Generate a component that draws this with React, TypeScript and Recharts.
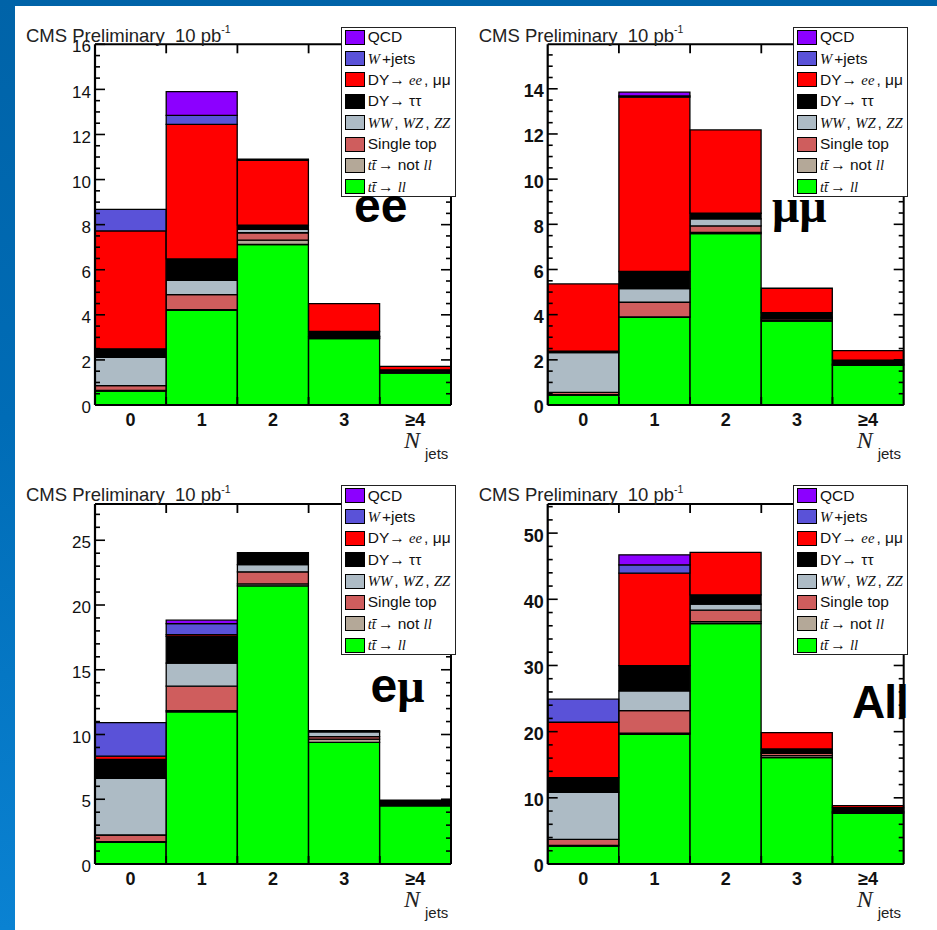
import React from 'react';
import { BarChart, Bar, XAxis, YAxis, Legend } from 'recharts';

// ---------------- data ----------------
const BINS = ['0', '1', '2', '3', '≥4'];

const SERIES = [
  { key: 'ttll', name: 'tt̄→ ll', color: '#00ff00' },
  { key: 'ttnot', name: 'tt̄ → not ll', color: '#b4a898' },
  { key: 'st', name: 'Single top', color: '#cf5d5d' },
  { key: 'vv', name: 'WW, WZ, ZZ', color: '#adbbc5' },
  { key: 'dytt', name: 'DY→ ττ', color: '#000000' },
  { key: 'dyll', name: 'DY→ ee, μμ', color: '#ff0000' },
  { key: 'wjets', name: 'W+jets', color: '#5a52d8' },
  { key: 'qcd', name: 'QCD', color: '#8c00ff' },
];

const EE = {
  ttll: [0.62, 4.2, 7.12, 2.94, 1.41],
  ttnot: [0.03, 0.03, 0.19, 0.04, 0.02],
  st: [0.21, 0.67, 0.33, 0.04, 0.02],
  vv: [1.25, 0.63, 0.15, 0.03, 0.02],
  dytt: [0.38, 0.95, 0.19, 0.21, 0.09],
  dyll: [5.23, 5.97, 2.87, 1.24, 0.15],
  wjets: [0.96, 0.4, 0.05, 0, 0],
  qcd: [0, 1.05, 0, 0, 0],
};

const MUMU = {
  ttll: [0.44, 3.88, 7.59, 3.72, 1.76],
  ttnot: [0.02, 0.02, 0.05, 0.05, 0.02],
  st: [0.1, 0.65, 0.29, 0.07, 0.02],
  vv: [1.76, 0.6, 0.31, 0.05, 0.02],
  dytt: [0.06, 0.76, 0.25, 0.2, 0.17],
  dyll: [2.98, 7.72, 3.69, 1.08, 0.42],
  wjets: [0, 0.05, 0, 0, 0],
  qcd: [0, 0.17, 0, 0, 0],
};

const EMU = {
  ttll: [1.67, 11.75, 21.48, 9.39, 4.5],
  ttnot: [0.05, 0.1, 0.15, 0.26, 0.05],
  st: [0.52, 1.88, 0.93, 0.18, 0.05],
  vv: [4.37, 1.78, 0.56, 0.38, 0.04],
  dytt: [1.47, 2.06, 0.93, 0.08, 0.3],
  dyll: [0.25, 0.15, 0, 0, 0],
  wjets: [2.58, 0.85, 0, 0, 0],
  qcd: [0, 0.26, 0, 0, 0],
};

const ALL = {
  ttll: [2.72, 19.61, 36.34, 16.08, 7.66],
  ttnot: [0.1, 0.15, 0.3, 0.3, 0.1],
  st: [0.91, 3.43, 1.72, 0.35, 0.1],
  vv: [7.11, 2.97, 0.9, 0.1, 0.06],
  dytt: [2.21, 3.83, 1.41, 0.56, 0.6],
  dyll: [8.37, 13.96, 6.41, 2.47, 0.3],
  wjets: [3.48, 1.26, 0, 0, 0],
  qcd: [0, 1.51, 0, 0, 0],
};

const EE_TICKS = [0, 2, 4, 6, 8, 10, 12, 14, 16];
const MUMU_TICKS = [0, 2, 4, 6, 8, 10, 12, 14];
const EMU_TICKS = [0, 5, 10, 15, 20, 25];
const ALL_TICKS = [0, 10, 20, 30, 40, 50];

const TITLE = 'CMS Preliminary\u00A0\u00A010 pb';

// ---------------- helpers ----------------
const SANS = '"Liberation Sans", Arial, Helvetica, sans-serif';
const SERIF = '"Liberation Serif", "Times New Roman", serif';

function buildRows(values: Record<string, number[]>) {
  return BINS.map((b, i) => {
    const row: any = { bin: b };
    SERIES.forEach((s) => {
      row[s.key] = values[s.key][i];
    });
    return row;
  });
}

function minorTicks(max: number, step: number) {
  const t: number[] = [];
  for (let k = 0; k * step <= max + 1e-9; k++) t.push(+(k * step).toFixed(4));
  return t;
}

const It = ({ children }: any) => (
  <span
    style={{
      fontFamily: SERIF,
      fontStyle: 'italic',
      fontSize: '0.95em',
      display: 'inline-block',
      paddingRight: 2,
    }}
  >
    {children}
  </span>
);

function richLabel(key: string) {
  switch (key) {
    case 'qcd':
      return <>QCD</>;
    case 'wjets':
      return (
        <>
          <It>W</It>+jets
        </>
      );
    case 'dyll':
      return (
        <>
          DY→ <It>ee</It>, μμ
        </>
      );
    case 'dytt':
      return <>DY→ ττ</>;
    case 'vv':
      return (
        <>
          <It>WW</It>, <It>WZ</It>, <It>ZZ</It>
        </>
      );
    case 'st':
      return <>Single top</>;
    case 'ttnot':
      return (
        <>
          <It>tt̄</It>→ not <It>ll</It>
        </>
      );
    case 'ttll':
      return (
        <>
          <It>tt̄</It>→ <It>ll</It>
        </>
      );
    default:
      return <>{key}</>;
  }
}

const LegendBox = (props: any) => {
  const payload = props.payload || [];
  const order = (k: string) => SERIES.findIndex((s) => s.key === k);
  const items = [...payload].sort((a: any, b: any) => order(b.dataKey) - order(a.dataKey));
  return (
    <div
      style={{
        position: 'relative',
        width: 115,
        height: 170,
        boxSizing: 'border-box',
        border: '1.5px solid #222',
        background: '#fff',
      }}
    >
      {items.map((it: any, i: number) => {
        const s = SERIES[order(it.dataKey)];
        return (
          <div
            key={String(it.dataKey)}
            style={{
              position: 'absolute',
              left: 3,
              top: 10.6 + 21.35 * i - 9,
              height: 16,
              display: 'flex',
              alignItems: 'center',
            }}
          >
            <div
              style={{
                width: 20,
                height: 15,
                background: s ? s.color : it.color,
                border: '1.5px solid #000',
                boxSizing: 'border-box',
                flex: 'none',
              }}
            />
            <span
              style={{
                marginLeft: 3,
                fontSize: 15.5,
                fontFamily: SANS,
                color: '#111',
                whiteSpace: 'nowrap',
                lineHeight: '16px',
              }}
            >
              {richLabel(String(it.dataKey))}
            </span>
          </div>
        );
      })}
    </div>
  );
};

type PanelCfg = {
  id: string;
  values: Record<string, number[]>;
  left: number;
  top: number;
  width: number;
  height: number;
  plot: { l: number; r: number; t: number; b: number };
  yMax: number;
  majors: number[];
  minorStep: number;
  yFont: number;
  yBold: boolean;
  legend: { x: number; y: number };
};

const PANELS: PanelCfg[] = [
  {
    id: 'ee',
    values: EE,
    left: 0,
    top: 0,
    width: 468,
    height: 465,
    plot: { l: 95, r: 451, t: 44.3, b: 405 },
    yMax: 16,
    majors: EE_TICKS,
    minorStep: 0.5,
    yFont: 17,
    yBold: false,
    legend: { x: 340.7, y: 26.7 },
  },
  {
    id: 'mumu',
    values: MUMU,
    left: 468,
    top: 0,
    width: 469,
    height: 465,
    plot: { l: 547.7, r: 903.7, t: 44.3, b: 405 },
    yMax: 15.97,
    majors: MUMU_TICKS,
    minorStep: 0.5,
    yFont: 18,
    yBold: true,
    legend: { x: 793, y: 26.7 },
  },
  {
    id: 'emu',
    values: EMU,
    left: 0,
    top: 465,
    width: 468,
    height: 465,
    plot: { l: 95, r: 451, t: 504, b: 864 },
    yMax: 27.8,
    majors: EMU_TICKS,
    minorStep: 1,
    yFont: 17,
    yBold: false,
    legend: { x: 340.7, y: 485 },
  },
  {
    id: 'all',
    values: ALL,
    left: 468,
    top: 465,
    width: 469,
    height: 465,
    plot: { l: 547.7, r: 903.7, t: 504, b: 864 },
    yMax: 54.4,
    majors: ALL_TICKS,
    minorStep: 2,
    yFont: 18,
    yBold: true,
    legend: { x: 793, y: 485 },
  },
];

const W_L = 40;
const W_R = 1;
const H_T = 1;
const H_B = 40;

function Panel({ cfg }: { cfg: PanelCfg }) {
  const { plot } = cfg;
  const data = buildRows(cfg.values);
  const ticks = minorTicks(cfg.yMax, cfg.minorStep);
  const margin = {
    left: plot.l - cfg.left - W_L,
    right: cfg.left + cfg.width - plot.r - W_R,
    top: plot.t - cfg.top - H_T,
    bottom: cfg.top + cfg.height - plot.b - H_B,
  };
  const half = (plot.r - plot.l) / BINS.length / 2;
  const isMajor = (v: number) => cfg.majors.some((m) => Math.abs(m - v) < 1e-6);

  const leftTick = (p: any) => {
    const v = p.payload.value;
    const maj = isMajor(v);
    return (
      <g>
        <line x1={p.x} x2={p.x + (maj ? 10 : 5)} y1={p.y} y2={p.y} stroke="#000" strokeWidth={1.6} />
        {maj && (
          <text
            x={p.x - 4}
            y={p.y + 2}
            dy="0.36em"
            textAnchor="end"
            fontFamily={SANS}
            fontSize={cfg.yFont}
            fontWeight={cfg.yBold ? 'bold' : 'normal'}
            fill="#111"
          >
            {v}
          </text>
        )}
      </g>
    );
  };
  const rightTick = (p: any) => {
    const v = p.payload.value;
    const maj = isMajor(v);
    return <line x1={p.x} x2={p.x - (maj ? 10 : 5)} y1={p.y} y2={p.y} stroke="#000" strokeWidth={1.6} />;
  };
  const bottomTick = (p: any) => {
    const off = p.payload && p.payload.offset ? p.payload.offset : half;
    return (
      <g>
        {p.index > 0 && (
          <line x1={p.x - off} x2={p.x - off} y1={p.y} y2={p.y - 8} stroke="#000" strokeWidth={1.8} />
        )}
        <text
          x={p.x}
          y={p.y + 15}
          dy="0.36em"
          textAnchor="middle"
          fontFamily={SANS}
          fontSize={18}
          fontWeight="bold"
          fill="#111"
        >
          {p.payload.value}
        </text>
      </g>
    );
  };
  const topTick = (p: any) => {
    const off = p.payload && p.payload.offset ? p.payload.offset : half;
    if (p.index === 0) return <g />;
    return <line x1={p.x - off} x2={p.x - off} y1={p.y} y2={p.y + 9} stroke="#000" strokeWidth={1.8} />;
  };

  return (
    <div style={{ position: 'absolute', left: cfg.left, top: cfg.top }}>
      <BarChart
        width={cfg.width}
        height={cfg.height}
        data={data}
        margin={margin}
        barCategoryGap={0}
        barGap={0}
      >
        <XAxis
          xAxisId="b"
          dataKey="bin"
          orientation="bottom"
          height={H_B}
          interval={0}
          tickSize={0}
          tickMargin={0}
          tickLine={false}
          axisLine={{ stroke: '#000', strokeWidth: 2 }}
          tick={bottomTick}
        />
        <XAxis
          xAxisId="t"
          dataKey="bin"
          orientation="top"
          height={H_T}
          interval={0}
          tickSize={0}
          tickMargin={0}
          tickLine={false}
          axisLine={{ stroke: '#000', strokeWidth: 2 }}
          tick={topTick}
        />
        <YAxis
          yAxisId="l"
          orientation="left"
          type="number"
          width={W_L}
          domain={[0, cfg.yMax]}
          allowDataOverflow
          ticks={ticks}
          interval={0}
          tickSize={0}
          tickMargin={0}
          tickLine={false}
          axisLine={{ stroke: '#000', strokeWidth: 2.2 }}
          tick={leftTick}
        />
        <YAxis
          yAxisId="r"
          orientation="right"
          type="number"
          width={W_R}
          domain={[0, cfg.yMax]}
          allowDataOverflow
          ticks={ticks}
          interval={0}
          tickSize={0}
          tickMargin={0}
          tickLine={false}
          axisLine={{ stroke: '#000', strokeWidth: 2 }}
          tick={rightTick}
        />
        {SERIES.map((s) => (
          <Bar
            key={s.key}
            dataKey={s.key}
            name={s.name}
            stackId="stack"
            xAxisId="b"
            yAxisId="l"
            fill={s.color}
            stroke="#000"
            strokeWidth={1.3}
            isAnimationActive={false}
          />
        ))}
        <Legend
          layout="vertical"
          align="center"
          verticalAlign="middle"
          content={<LegendBox />}
          wrapperStyle={{
            position: 'absolute',
            left: cfg.legend.x - cfg.left,
            top: cfg.legend.y - cfg.top,
            width: 115,
            height: 170,
            margin: 0,
            padding: 0,
          }}
        />
      </BarChart>
    </div>
  );
}

function Overlay() {
  return (
    <svg
      width={937}
      height={930}
      style={{ position: 'absolute', left: 0, top: 0, pointerEvents: 'none' }}
    >
      {PANELS.map((p) => (
        <g key={p.id}>
          <text x={p.plot.l - 69} y={p.plot.t - 2.8} fontFamily={SANS} fontSize={18.5} fill="#222">
            {TITLE}
            <tspan dy={-8.5} fontSize={10.5}>
              -1
            </tspan>
          </text>
          <text
            x={p.plot.r - 47}
            y={p.plot.b + 43}
            fontFamily={SERIF}
            fontStyle="italic"
            fontSize={24}
            fill="#222"
          >
            N
          </text>
          <text x={p.plot.r - 26} y={p.plot.b + 54} fontFamily={SANS} fontSize={15} fill="#222">
            jets
          </text>
        </g>
      ))}
      <text x={354} y={221.7} fontFamily={SANS} fontWeight="bold" fontSize={48} fill="#000">
        ee
      </text>
      <text x={772} y={222} fontFamily={SERIF} fontWeight="bold" fontSize={48} fill="#000">
        μμ
      </text>
      <text x={370.5} y={702} fontFamily={SANS} fontWeight="bold" fontSize={48} fill="#000">
        e
        <tspan fontFamily={SERIF} fontWeight="bold">
          μ
        </tspan>
      </text>
      <text x={852} y={718} fontFamily={SANS} fontWeight="bold" fontSize={46} fill="#000" letterSpacing={-1}>
        All
      </text>
    </svg>
  );
}

export default function App() {
  return (
    <div
      style={{
        position: 'absolute',
        left: 0,
        top: 0,
        width: 937,
        height: 930,
        overflow: 'hidden',
        background: 'linear-gradient(180deg, #0063a8 0%, #006cb6 45%, #0a82d2 100%)',
      }}
    >
      <div
        style={{ position: 'absolute', left: 15, top: 6, width: 922, height: 924, background: '#fff' }}
      />
      {PANELS.map((p) => (
        <Panel key={p.id} cfg={p} />
      ))}
      <Overlay />
    </div>
  );
}
